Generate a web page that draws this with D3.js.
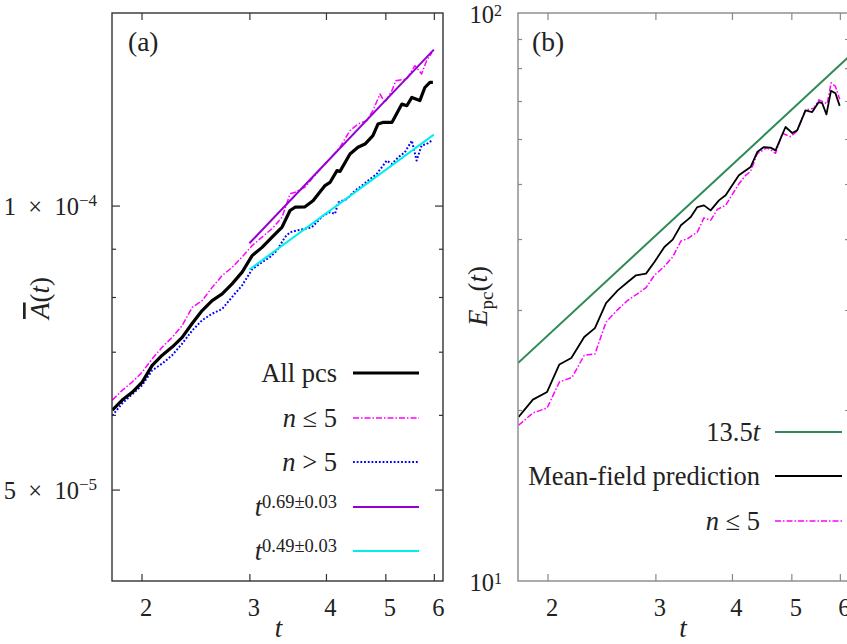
<!DOCTYPE html>
<html>
<head>
<meta charset="utf-8">
<script src="https://cdn.jsdelivr.net/npm/d3@7"></script>
<style>
  body { margin: 0; background: #fff; }
  svg { display: block; }
  text { font-family: "Liberation Serif", "Times New Roman", serif; fill: #222; }
</style>
</head>
<body>
<svg id="chart" width="847" height="644"></svg>
<script>
// ---- data ----
const xTicks = [2, 3, 4, 5, 6];

// panel (a): mean area A(t)
const tAll = [1.792, 1.860, 1.931, 2.005, 2.082, 2.162, 2.244, 2.330, 2.419, 2.512, 2.608, 2.708, 2.811, 2.919, 3.031, 3.146, 3.267, 3.392, 3.495, 3.561, 3.697, 3.810, 3.986, 4.061, 4.169, 4.217, 4.378, 4.511, 4.632, 4.772, 4.863, 4.955, 5.125, 5.321, 5.421, 5.524, 5.692, 5.801, 5.911, 5.978];
const aAll = [6.07, 6.22, 6.34, 6.50, 6.77, 6.94, 7.08, 7.25, 7.50, 7.74, 7.93, 8.06, 8.26, 8.50, 8.85, 9.03, 9.26, 9.49, 9.88, 9.96, 9.97, 10.12, 10.50, 10.58, 10.89, 10.87, 11.34, 11.53, 11.62, 11.86, 12.20, 12.25, 12.25, 12.81, 12.76, 13.02, 12.92, 13.34, 13.51, 13.51].map(v => v * 1e-5);

const tLow = [1.792, 1.860, 1.931, 2.005, 2.082, 2.162, 2.244, 2.330, 2.419, 2.512, 2.608, 2.708, 2.811, 2.919, 3.031, 3.146, 3.267, 3.392, 3.495, 3.561, 3.697, 3.810, 3.961, 4.061, 4.217, 4.378, 4.511, 4.661, 4.772, 4.900, 4.993, 5.125, 5.201, 5.421, 5.587, 5.730, 5.838, 5.957];
const aLow = [6.22, 6.37, 6.50, 6.66, 6.88, 7.08, 7.25, 7.46, 7.80, 7.93, 8.19, 8.43, 8.60, 8.82, 9.07, 9.26, 9.45, 9.72, 10.29, 10.33, 10.46, 10.71, 11.02, 11.21, 11.53, 12.01, 12.20, 12.30, 12.61, 13.13, 12.86, 13.24, 13.56, 13.62, 14.07, 13.79, 14.24, 14.53].map(v => v * 1e-5);

const tHigh = [1.792, 1.860, 1.931, 2.005, 2.082, 2.162, 2.244, 2.330, 2.419, 2.512, 2.608, 2.708, 2.811, 2.919, 3.031, 3.123, 3.242, 3.325, 3.430, 3.495, 3.584, 3.697, 3.791, 3.863, 3.961, 4.061, 4.138, 4.190, 4.324, 4.461, 4.545, 4.689, 4.839, 4.955, 5.024, 5.125, 5.248, 5.381, 5.524, 5.623, 5.730, 5.838, 5.957];
const aHigh = [5.99, 6.17, 6.31, 6.45, 6.69, 6.80, 6.94, 7.14, 7.37, 7.56, 7.68, 7.77, 8.00, 8.23, 8.56, 8.68, 8.82, 8.96, 9.26, 9.37, 9.41, 9.45, 9.48, 9.60, 9.76, 9.84, 9.80, 10.08, 10.16, 10.37, 10.46, 10.63, 10.80, 11.02, 11.16, 11.07, 11.25, 11.39, 11.72, 11.16, 11.58, 11.62, 11.72].map(v => v * 1e-5);

// fitted power laws, end points only
const tFit = [3, 6];
const aFit069 = [9.12e-5, 1.463e-4];
const aFit049 = [8.555e-5, 1.189e-4];

// panel (b): E_pc(t)
const tLine = [1.79, 6.21];
const eLine = [24.2, 83.8];

const tMF = [1.794, 1.893, 1.997, 2.091, 2.187, 2.296, 2.390, 2.492, 2.604, 2.704, 2.789, 2.896, 2.989, 3.103, 3.201, 3.302, 3.387, 3.426, 3.512, 3.600, 3.692, 3.809, 3.906, 4.105, 4.290, 4.399, 4.510, 4.625, 4.712, 4.892, 5.017, 5.111, 5.274, 5.408, 5.543, 5.614, 5.705, 5.803, 5.901, 5.997];
const eMF = [19.44, 20.86, 21.52, 24.06, 24.69, 26.89, 27.87, 30.86, 32.49, 33.60, 34.53, 34.77, 36.44, 38.73, 39.91, 42.29, 43.27, 43.73, 45.54, 45.85, 44.93, 46.79, 47.75, 51.79, 53.56, 56.92, 58.08, 57.94, 57.30, 62.99, 61.47, 62.14, 67.39, 66.94, 69.70, 69.42, 66.31, 72.94, 72.21, 68.63];

const tLowB = [1.794, 1.893, 1.997, 2.091, 2.193, 2.296, 2.390, 2.492, 2.604, 2.704, 2.807, 2.896, 2.989, 3.103, 3.201, 3.302, 3.387, 3.512, 3.600, 3.692, 3.786, 3.906, 4.101, 4.211, 4.290, 4.399, 4.567, 4.712, 4.832, 4.985, 5.111, 5.274, 5.441, 5.543, 5.614, 5.721, 5.807, 5.901, 5.997];
const eLowB = [18.80, 19.76, 20.16, 22.40, 22.83, 24.97, 25.10, 28.57, 30.05, 31.20, 32.06, 32.85, 34.53, 35.81, 37.19, 39.68, 40.07, 41.15, 43.59, 43.15, 45.12, 45.86, 49.93, 51.79, 52.63, 56.55, 57.94, 56.62, 61.40, 60.58, 62.02, 67.53, 67.94, 70.32, 69.89, 69.25, 75.35, 74.29, 70.47];

// ---- layout ----
const svg = d3.select('#chart');
const FONT = 26.5;

const boxA = { left: 112, right: 443, top: 13, bottom: 581 };
const boxB = { left: 518, right: 849, top: 13, bottom: 581 };

const xA = d3.scaleLog().domain([1.79, 6.21]).range([boxA.left, boxA.right]);
const yA = d3.scaleLog().domain([4e-5, 1.6e-4]).range([boxA.bottom, boxA.top]);
const xB = d3.scaleLog().domain([1.79, 6.21]).range([boxB.left, boxB.right]);
const yB = d3.scaleLog().domain([10, 100]).range([boxB.bottom, boxB.top]);

const DASHDOT = '6,2,1.5,2';
const DOTTED = '1.8,1.9';

// rich text: parts = [{t, i, sup, sub, over}]
const rich = (sel, parts, supSize = 18, raise = 8) => {
  let shift = 0;
  parts.forEach(p => {
    const span = sel.append('tspan').text(p.t);
    if (p.i) span.attr('font-style', 'italic');
    if (p.over) span.attr('text-decoration', 'overline');
    const want = p.sup ? -raise : p.sub ? 6 : 0;
    if (want !== shift) {
      span.attr('dy', want - shift);
      shift = want;
    }
    if (p.sup || p.sub) span.attr('font-size', supSize);
  });
  return sel;
};

const noDomain = g => g.select('.domain').remove();

const drawFrame = (g, box, x, y, color, yMajor, yMinor) => {
  const styleTicks = sel => sel.selectAll('.tick line').attr('stroke', color).attr('stroke-width', 1.2);

  g.append('g')
    .attr('transform', `translate(0,${ box.bottom })`)
    .call(d3.axisBottom(x).tickValues(xTicks).tickSize(-7).tickPadding(18).tickFormat(d3.format('d')))
    .call(noDomain)
    .call(styleTicks)
    .call(s => s.selectAll('.tick text')
      .attr('dx', 4)
      .attr('font-size', 24.5)
      .attr('font-family', '"Liberation Serif", serif')
      .attr('fill', '#222'));

  g.append('g')
    .attr('transform', `translate(0,${ box.top })`)
    .call(d3.axisTop(x).tickValues(xTicks).tickSize(-7).tickFormat(''))
    .call(noDomain)
    .call(styleTicks);

  [[d3.axisLeft, box.left], [d3.axisRight, box.right]].forEach(([axis, pos]) => {
    if (yMajor.length) {
      g.append('g')
        .attr('transform', `translate(${ pos },0)`)
        .call(axis(y).tickValues(yMajor).tickSize(-8).tickFormat(''))
        .call(noDomain)
        .call(styleTicks);
    }

    g.append('g')
      .attr('transform', `translate(${ pos },0)`)
      .call(axis(y).tickValues(yMinor).tickSize(-4).tickFormat(''))
      .call(noDomain)
      .call(styleTicks);
  });

  g.append('rect')
    .attr('x', box.left)
    .attr('y', box.top)
    .attr('width', box.right - box.left)
    .attr('height', box.bottom - box.top)
    .attr('fill', 'none')
    .attr('stroke', color)
    .attr('stroke-width', 1.4);
};

const drawSeries = (g, clipId, x, y, ts, vs, style) => {
  const line = d3.line().x(d => x(d[0])).y(d => y(d[1]));

  g.append('path')
    .datum(d3.zip(ts, vs))
    .attr('clip-path', `url(#${ clipId })`)
    .attr('fill', 'none')
    .attr('stroke', style.color)
    .attr('stroke-width', style.width)
    .attr('stroke-dasharray', style.dash || null)
    .attr('stroke-linejoin', 'round')
    .attr('d', line);
};

const drawLegend = (g, entries, textX, x1, x2, ys) => {
  entries.forEach((e, i) => {
    g.append('line')
      .attr('x1', x1).attr('x2', x2)
      .attr('y1', ys[i]).attr('y2', ys[i])
      .attr('stroke', e.color)
      .attr('stroke-width', e.width)
      .attr('stroke-dasharray', e.dash || null);

    rich(g.append('text')
      .attr('x', textX)
      .attr('y', ys[i] + 9)
      .attr('text-anchor', 'end')
      .attr('font-size', FONT), e.label, 18.5, 8);
  });
};

const defs = svg.append('defs');
[['clipA', boxA], ['clipB', boxB]].forEach(([id, box]) => {
  defs.append('clipPath').attr('id', id)
    .append('rect')
    .attr('x', box.left).attr('y', box.top)
    .attr('width', box.right - box.left).attr('height', box.bottom - box.top);
});

// ---- panel (a) ----
const gA = svg.append('g');

drawSeries(gA, 'clipA', xA, yA, tLow, aLow, { color: '#ff00ff', width: 1.5, dash: DASHDOT });
drawSeries(gA, 'clipA', xA, yA, tHigh, aHigh, { color: '#0000ff', width: 2, dash: DOTTED });
drawSeries(gA, 'clipA', xA, yA, tAll, aAll, { color: '#000', width: 3.2 });
drawSeries(gA, 'clipA', xA, yA, tFit, aFit069, { color: '#9400d3', width: 2 });
drawSeries(gA, 'clipA', xA, yA, tFit, aFit049, { color: '#00eeee', width: 2 });

drawFrame(gA, boxA, xA, yA, '#333', [5e-5, 1e-4], [6e-5, 7e-5, 8e-5, 9e-5]);

// y tick labels in a × 10^b form
[[1e-4, '1', '−4'], [5e-5, '5', '−5']].forEach(([v, m, e]) => {
  rich(gA.append('text')
    .attr('x', 97)
    .attr('y', yA(v) + 9)
    .attr('text-anchor', 'end')
    .attr('font-size', 24.5), [{ t: `${ m }\u2002×\u200210` }, { t: e, sup: true }], 17, 9);
});

gA.append('text')
  .attr('x', 128).attr('y', 51)
  .attr('font-size', 27.5)
  .text('(a)');

gA.append('text')
  .attr('x', (boxA.left + boxA.right) / 2 + 1).attr('y', 637)
  .attr('text-anchor', 'middle')
  .attr('font-size', 27)
  .attr('font-style', 'italic')
  .text('t');

rich(gA.append('text')
  .attr('transform', 'translate(49,298) rotate(-90)')
  .attr('text-anchor', 'middle')
  .attr('font-size', 27), [{ t: 'A', i: true, over: true }, { t: '(' }, { t: 't', i: true }, { t: ')' }]);

drawLegend(gA, [
  { label: [{ t: 'All pcs' }], color: '#000', width: 3.2 },
  { label: [{ t: 'n', i: true }, { t: ' ≤ 5' }], color: '#ff00ff', width: 1.5, dash: DASHDOT },
  { label: [{ t: 'n', i: true }, { t: ' > 5' }], color: '#0000ff', width: 2, dash: DOTTED },
  { label: [{ t: 't', i: true }, { t: '0.69±0.03', sup: true }], color: '#9400d3', width: 2 },
  { label: [{ t: 't', i: true }, { t: '0.49±0.03', sup: true }], color: '#00eeee', width: 2 }
], 337, 353, 419, [373, 418, 462, 507, 551]);

// ---- panel (b) ----
const gB = svg.append('g');

drawSeries(gB, 'clipB', xB, yB, tLine, eLine, { color: '#2e8b57', width: 2 });
drawSeries(gB, 'clipB', xB, yB, tLowB, eLowB, { color: '#ff00ff', width: 1.5, dash: DASHDOT });
drawSeries(gB, 'clipB', xB, yB, tMF, eMF, { color: '#000', width: 1.8 });

drawFrame(gB, boxB, xB, yB, '#888', [], [20, 30, 40, 50, 60, 70, 80, 90]);

[[100, '2'], [10, '1']].forEach(([v, e]) => {
  rich(gB.append('text')
    .attr('x', 502)
    .attr('y', yB(v) + 10)
    .attr('text-anchor', 'end')
    .attr('font-size', 24.5), [{ t: '10' }, { t: e, sup: true }], 16, 7);
});

gB.append('text')
  .attr('x', 532).attr('y', 51)
  .attr('font-size', 27.5)
  .text('(b)');

gB.append('text')
  .attr('x', 683).attr('y', 637)
  .attr('text-anchor', 'middle')
  .attr('font-size', 27)
  .attr('font-style', 'italic')
  .text('t');

rich(gB.append('text')
  .attr('transform', 'translate(487,296) rotate(-90)')
  .attr('text-anchor', 'middle')
  .attr('font-size', 27), [{ t: 'E', i: true }, { t: 'pc', sub: true }, { t: '(' }, { t: 't', i: true }, { t: ')' }], 19);

drawLegend(gB, [
  { label: [{ t: '13.5' }, { t: 't', i: true }], color: '#2e8b57', width: 2 },
  { label: [{ t: 'Mean-field prediction' }], color: '#000', width: 1.8 },
  { label: [{ t: 'n', i: true }, { t: ' ≤ 5' }], color: '#ff00ff', width: 1.5, dash: DASHDOT }
], 760, 775, 842, [432, 476, 521]);
</script>
</body>
</html>
